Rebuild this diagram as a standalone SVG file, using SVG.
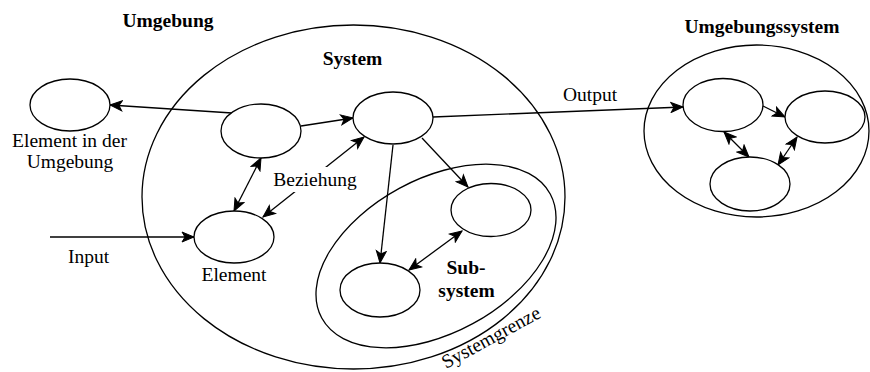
<svg xmlns="http://www.w3.org/2000/svg" width="870" height="372" viewBox="0 0 870 372">
  <style>
    .shape { fill: none; stroke: #000; stroke-width: 1.3; }
    .node { fill: #fff; stroke: #000; stroke-width: 1.3; }
    .edge { fill: none; stroke: #000; stroke-width: 1.3; }
    text { font-family: "Liberation Serif", "Times New Roman", serif; font-size: 19.5px; fill: #000; }
    .title { font-weight: bold; }
    .c { text-anchor: middle; }
  </style>
  <defs>
    <marker id="arrow" markerUnits="userSpaceOnUse" markerWidth="14" markerHeight="12" viewBox="0 0 14 12" refX="13" refY="6" orient="auto-start-reverse">
      <path d="M1,1 L13,6 L1,11 L4,6 Z" fill="#000" stroke="#000" stroke-width="1" stroke-linejoin="miter"/>
    </marker>
  </defs>

  <rect width="870" height="372" fill="#fff"/>

  <!-- boundaries -->
  <g id="system-boundary">
    <ellipse class="shape" cx="353.5" cy="197" rx="211.5" ry="172"/>
    <text class="title c" x="352.5" y="65">System</text>
  </g>
  <g id="subsystem-boundary">
    <ellipse class="shape" cx="436" cy="256" rx="130" ry="77" transform="rotate(-28.5 436 256)"/>
    <text class="title c" x="466" y="274">Sub-</text>
    <text class="title c" x="466.5" y="297">system</text>
  </g>
  <g id="environment-system">
    <ellipse class="shape" cx="756.5" cy="131" rx="112.5" ry="86"/>
    <text class="title c" x="762" y="33">Umgebungssystem</text>
  </g>
  <g id="environment-label">
    <text class="title c" x="168" y="27">Umgebung</text>
  </g>
  <g id="boundary-label">
    <text class="c" x="494" y="343" transform="rotate(-28.5 494 343)">Systemgrenze</text>
  </g>

  <!-- connectors -->
  <g id="connectors">
    <path class="edge" d="M232,113 L110,105" marker-end="url(#arrow)"/>
    <path class="edge" d="M301,126 L353,118" marker-end="url(#arrow)"/>
    <path class="edge" d="M261,158 L234,211" marker-start="url(#arrow)" marker-end="url(#arrow)"/>
    <path class="edge" d="M263,217 L364,137" marker-start="url(#arrow)" marker-end="url(#arrow)"/>
    <path class="edge" d="M393,145 L380,263" marker-end="url(#arrow)"/>
    <path class="edge" d="M422,138 L468,187" marker-end="url(#arrow)"/>
    <path class="edge" d="M409,270 L462,231" marker-start="url(#arrow)" marker-end="url(#arrow)"/>
    <path class="edge" d="M50,237 L194,237" marker-end="url(#arrow)"/>
    <path class="edge" d="M433,117 L683,107" marker-end="url(#arrow)"/>
    <path class="edge" d="M763,106 L785,117" marker-end="url(#arrow)"/>
    <path class="edge" d="M724,132 L749,157" marker-start="url(#arrow)" marker-end="url(#arrow)"/>
    <path class="edge" d="M797,137 L778,165" marker-start="url(#arrow)" marker-end="url(#arrow)"/>
    <!-- edge labels -->
    <rect x="272" y="167" width="87" height="25" fill="#fff"/>
    <text class="c" x="315" y="186">Beziehung</text>
    <text class="c" x="88.5" y="263">Input</text>
    <text class="c" x="590" y="101">Output</text>
  </g>

  <!-- nodes -->
  <g id="env-element">
    <ellipse class="node" cx="70" cy="105" rx="40" ry="26"/>
    <text class="c" x="69.5" y="147">Element in der</text>
    <text class="c" x="70" y="168">Umgebung</text>
  </g>
  <g id="sys-node-a">
    <ellipse class="node" cx="261" cy="131" rx="40" ry="27"/>
  </g>
  <g id="sys-node-b">
    <ellipse class="node" cx="393" cy="118" rx="40" ry="26"/>
  </g>
  <g id="sys-element">
    <ellipse class="node" cx="234" cy="237" rx="40" ry="26"/>
    <text class="c" x="234" y="281">Element</text>
  </g>
  <g id="sub-node-a">
    <ellipse class="node" cx="491" cy="210" rx="40" ry="26.5"/>
  </g>
  <g id="sub-node-b">
    <ellipse class="node" cx="380" cy="290" rx="40" ry="27"/>
  </g>
  <g id="env-sys-node-a">
    <ellipse class="node" cx="723" cy="105" rx="40" ry="26.5"/>
  </g>
  <g id="env-sys-node-b">
    <ellipse class="node" cx="825" cy="117" rx="40" ry="26"/>
  </g>
  <g id="env-sys-node-c">
    <ellipse class="node" cx="750" cy="184" rx="40" ry="27"/>
  </g>
</svg>
